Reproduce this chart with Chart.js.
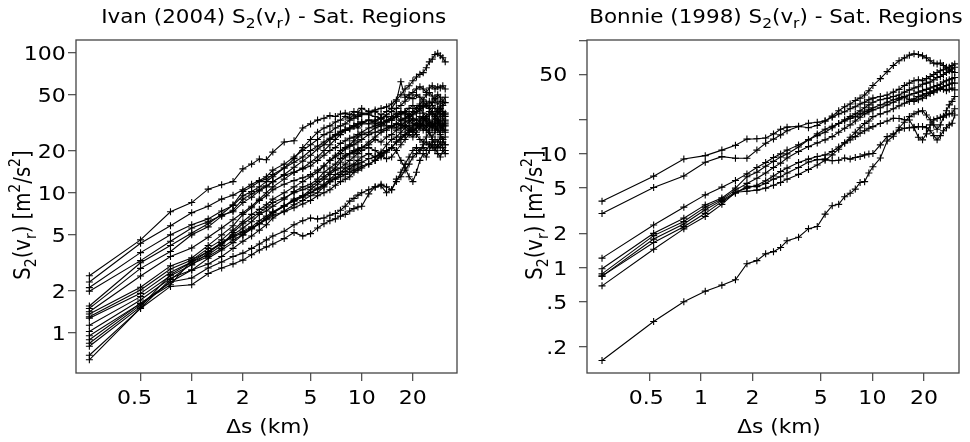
<!DOCTYPE html>
<html>
<head>
<meta charset="utf-8">
<script src="https://cdn.jsdelivr.net/npm/chart.js@4.4.0/dist/chart.umd.min.js"></script>
<style>
  html, body { margin: 0; padding: 0; background: #fff; }
  #wrap { position: relative; width: 970px; height: 442px; }
  .panel { position: absolute; top: 0; }
  #ivan-panel { left: 0; }
  #bonnie-panel { left: 480px; }
</style>
</head>
<body>
<div id="wrap">
  <div class="panel" id="ivan-panel"><canvas id="ivanChart" width="480" height="442"></canvas></div>
  <div class="panel" id="bonnie-panel"><canvas id="bonnieChart" width="490" height="442"></canvas></div>
</div>
<script>
// separation distances (km) where S2 was sampled
const ivanDist = [0.25,0.5,0.75,1,1.25,1.5,1.75,2,2.25,2.5,2.75,3,
  3.5,4,4.5,5,5.5,6,6.5,7,7.5,8,8.5,9,9.5,10,
  11,12,13,14,15,16,17,18,19,20,21,22,23,24,25,26,27,28,29,30,31]
const bonnieDist = [0.265,0.53,0.795,1.06,1.325,1.59,1.855,2.12,2.385,2.65,2.915,3.18,
  3.71,4.24,4.77,5.3,5.83,6.36,6.89,7.42,7.95,8.48,9.01,9.54,10.07,
  11.13,12.19,13.25,14.31,15.37,16.43,17.49,18.55,19.61,20.67,21.73,22.79,23.85,24.91,25.97,27.03,28.09,29.15,30.21]

// Ivan (2004) - one array per saturated region, m2/s2
const ivan01 = [2.55,4.6,7.3,8.5,10.6,11.4,12,14.8,16,17.4,17.2,19.5,
  23,23.5,29,31,33,34,35.5,35,36.5,37,36,38,37.5,40,
  38,39,40,41,43,46,50,55,58,63,67,70,72,78,86,90,97,99,95,92,86]
const ivan02 = [2.3,4.35,5.8,7.2,8.0,9.0,9.6,10.5,11.5,12.2,13,14.5,
  16,18,20,22,24,26,27,29,30,31,33,34,35,36,
  37,38,36,38,40,45,62,48,50,52,55,57,55,52,56,58,55,57,56,58,55]
const ivan03 = [2.1,3.73,5.0,5.9,6.5,7.4,8.1,9.5,10.2,11,12,13,
  15,17.5,21,24,27,29,30,32,33,35,34,36,35,37,
  36,35,34,36,38,40,42,45,48,47,50,48,46,50,52,49,47,50,48,45,48]
const ivan04 = [1.98,3.27,4.5,5.6,6.2,6.9,7.3,8.5,9.3,10.3,11,12,
  13.5,15.2,16.8,18.5,20.5,22,24,25.5,27,28,28.5,30,31,32,
  31,33,34,32,35,37,36,38,40,42,40,43,45,42,40,44,46,43,45,42,44]
const ivan05 = [1.55,3.16,4.2,5.15,6.0,7.0,8.2,10.2,11,12,12.5,13.5,
  15,16.5,18,20,21.5,23,24.5,26,27.5,28,29,30,29,31,
  33,32,34,35,33,36,38,37,35,36,38,40,37,35,38,36,34,37,40,38,36]
const ivan06 = [1.49,2.88,3.8,5.0,5.7,6.8,7.5,9.0,9.8,10.5,11.2,12,
  13.3,14,14.8,15.5,17,18.5,20,21,22.5,23.5,24.5,25,26,27,
  29,30,31,33,34,35,37,38,36,38,40,42,41,43,45,42,40,38,37,36,35]
const ivan07 = [1.41,2.54,3.5,4.03,4.8,5.6,6.4,7.2,8,9,10,11,
  12.5,14,15,16.5,18,20,22,24,26,28,29,30,31,32,
  33,31,32,30,29,31,33,34,35,33,31,30,32,34,33,30,28,31,33,31,30]
const ivan08 = [1.36,2.11,3.0,3.42,4.2,5.0,5.8,7.0,7.8,8.8,9.5,10.5,
  11.5,12.2,12.8,13.5,14.5,15.5,17,18,19,20.5,21.5,22,23,24,
  26,27,28,29,30,29,31,30,32,34,33,35,34,32,30,29,31,33,30,28,27]
const ivan09 = [1.30,2.02,2.85,3.3,4.0,4.6,5.4,6.2,7.0,7.6,8.2,9,
  10,11,12,13,14,15.5,17,18.5,20,21,22,23.5,25,26,
  27,29,30,32,33,35,33,34,36,38,37,39,41,43,40,38,36,39,41,38,37]
const ivan10 = [1.27,1.91,2.7,3.2,3.6,4.2,5.2,6.0,6.6,7.2,7.8,8.5,
  9.2,10,10.5,11,12,13,14,15,16.5,18,19,20,20.5,21,
  22,24,23,25,26,28,29,30,28,27,29,31,30,28,27,25,27,29,26,24,25]
const ivan11 = [1.13,1.81,2.55,3.05,3.7,4.4,5.0,5.6,6.2,7.0,7.4,8.0,
  9.0,10.2,11,11.5,12.5,14,15,16,17.5,18.5,19,19.5,20,21,
  23,25,27,28,30,31,30,32,33,31,30,32,34,33,31,30,32,31,29,30,31]
const ivan12 = [1.02,1.71,2.45,2.8,3.4,3.9,4.4,5.0,5.6,6.0,6.5,7.2,
  8,9,9.5,10,10.8,11.5,12.5,13.5,14,15,15.5,16,17,18,
  19,18,19.5,22,24,25,27,29,30,28,26,24,23,25,27,24,22,21,23,21,20]
const ivan13 = [0.95,1.62,2.3,2.8,3.1,3.5,4.0,4.5,4.9,5.4,5.9,6.6,
  7.4,8.2,8.8,9.5,10,11,12,12.8,13.5,14.2,14.8,15.5,16,16.5,
  17.5,18,19,20,21,20,17,15,13,12,14,17,19,18,20,22,21,19,18,20,19]
const ivan14 = [0.89,1.62,2.2,3.3,3.8,4.3,4.9,5.3,5.7,6.3,6.8,7.3,
  8.1,8.7,9.3,10,10.6,11.2,12,12.5,13,13.5,14,14.5,15,15.5,
  16,17,18,19.5,21,23,25,26,27,28,29,30,28,30,32,31,30,28,27,29,28]
const ivan15 = [0.84,1.58,2.3,2.46,2.9,3.2,3.5,3.7,4.0,4.3,4.6,4.9,
  5.3,5.9,6.3,6.6,6.5,6.6,6.9,7.1,7.5,8.0,8.7,9.1,9.6,10,
  10.5,11,11.5,11,10.5,12,14,16,18,20,21,20,22,23,22,21,20,22,21,23,22]
const ivan16 = [0.80,1.53,2.6,3.2,3.8,4.4,4.8,5.2,5.6,6.0,6.4,6.9,
  7.3,7.8,8.3,8.8,9.5,10,10.5,11.3,12,12.5,13,14,14.5,15,
  16,17,18.5,20,21,23,24,26,28,30,31,33,35,34,36,38,35,33,36,34,32]
const ivan17 = [0.69,1.49,2.14,2.2,2.65,2.9,3.1,3.3,3.6,3.9,4.1,4.3,
  4.7,5.2,4.9,5.1,5.6,6.0,6.3,6.5,6.8,7.0,7.4,7.7,7.9,8.0,
  9.8,11,11.2,10,10.5,12.5,13,14.5,16,18,19,20,21,20,22,23,24,23,25,24,22]
const ivan18 = [0.64,1.5,2.4,3.1,3.5,4.0,4.6,5.0,5.5,6.0,6.6,7.2,
  8.0,8.8,9.5,10.5,11.5,12.5,13.5,14.5,15,16,17,18,19,20,
  21,20,18.5,17.5,18,20,22,24,26,25,27,29,31,30,28,32,35,33,31,30,33]

// Bonnie (1998)
const bonnie1 = [3.84,6.37,9.03,9.66,10.8,11.9,13.5,13.6,13.8,15.0,16.5,17.2,
  17.5,17.0,17.8,19.5,21.5,24,26,27.5,29.5,31,33,36,40,
  46,53,60,66,70,74,76,75,73,70,66,63,62,63,60,58,55,53,52]
const bonnie2 = [2.99,5.06,6.4,8.45,9.47,9.16,9.16,10.8,12.4,13.5,14.7,16.0,
  17.4,18.6,19.0,19.5,21,22.5,23.5,25,26,27.5,28.5,30,31,
  32,33,35,37,40,42,44,45,44,46,48,50,52,54,55,57,58,60,62]
const bonnie3 = [1.21,2.37,3.4,4.36,5.1,5.83,6.67,7.6,8.4,9.3,10.0,10.8,
  12,13.3,14.5,15.5,17,18.5,20,21.3,22.5,24,25.5,27,28.5,
  30,30.8,32,33,35,36.6,38,39,41,42,43,45,47,48,50,52,54,56,58]
const bonnie4 = [0.975,2.0,2.72,3.56,4.1,5.0,6.3,6.9,7.8,8.6,9.4,10.0,
  11.5,13.3,15,16.5,17.5,18.5,19.5,20.5,21.3,22.5,23.5,24.5,25.5,
  27,28.5,30,31,32,33,34,35,36,37,38,39,40,41,43,44,45,46,47]
const bonnie5 = [0.88,1.91,2.54,3.4,4.0,4.8,5.5,6.1,6.8,7.6,8.3,9.2,
  10.5,11.6,12.5,13.3,14.2,15.5,16.8,18,19.5,21,22.5,23.5,24.4,
  25.5,27,28.5,30,31.5,30,29,30,31,32.5,34,35,36.6,38,37,36,37,38,36.6]
const bonnie6 = [0.84,1.78,2.42,3.22,3.9,4.6,5.0,5.3,5.8,6.4,7.0,7.5,
  8.4,9.0,9.5,9.8,10.5,11.5,12.5,13.3,14.2,15.2,16,16.8,17.4,
  18.5,19.5,20.6,20.5,20,19.9,17,14,13.3,15,18,19.9,20.5,21,21.5,22,22.5,22.8,25]
const bonnie7 = [0.84,1.66,2.29,3.0,3.8,4.5,5.2,5.15,5.5,6.0,6.3,6.8,
  7.6,8.5,8.9,9.0,8.7,8.8,9.2,9.0,9.3,9.5,9.8,10.0,10.1,
  12,14.2,15,16.2,16.8,17,17.2,17.4,17.4,17,16,14.5,13.3,14.5,16,17,18,18.6,22]
const bonnie8 = [0.69,1.45,2.19,2.81,3.6,4.6,4.7,4.8,5.0,5.3,5.6,6.0,
  6.6,7.3,8.0,8.8,9.8,11,12.5,14,15.5,17,18.5,19.5,21.3,
  22.5,23.5,25,26.5,27.9,29,30.5,32,33,34,35,36,37,38,39,40,41,42,42]
const bonnie9 = [0.152,0.335,0.5,0.62,0.7,0.78,1.08,1.15,1.32,1.38,1.5,1.72,
  1.85,2.2,2.3,2.95,3.5,3.6,4.2,4.5,4.9,5.6,5.7,6.8,7.7,
  9.2,13,14.3,17,19,21.3,22.5,23.5,24,22,20,18,16.5,18,21,24,27,29,32]

// axis ticks and labels
const xTicks = [0.5, 1, 2, 5, 10, 20]
const xLabels = ['0.5', '1', '2', '5', '10', '20']
const ivanYTicks = [1, 2, 5, 10, 20, 50, 100]
const ivanYLabels = ['1', '2', '5', '10', '20', '50', '100']
const bonnieYTicks = [0.2, 0.5, 1, 2, 5, 10, 20, 50, 100]
const bonnieYLabels = ['.2', '.5', '1', '2', '5', '10', '', '50', '']

// titles, split in parts so subscripts / superscripts can be drawn
const ivanTitle = [['Ivan (2004) S'], ['2', 'sub'], ['(v'], ['r', 'sub'], [') - Sat. Regions']]
const bonnieTitle = [['Bonnie (1998) S'], ['2', 'sub'], ['(v'], ['r', 'sub'], [') - Sat. Regions']]
const yTitle = [['S'], ['2', 'sub'], ['(v'], ['r', 'sub'], [') [m'], ['2', 'sup'], ['/s'], ['2', 'sup'], [']']]
const xTitle = [['\u0394s (km)']]

const FAMILY = "'DejaVu Sans', sans-serif"
// the lettering in the original is a bit wider than it is tall
const SX = 1.13

//draws a line of text with sub/superscripts centred on cx
function drawRich(ctx, parts, cx, baseY, size, sx) {
    const fontOf = (p) => `${p[1] ? size * 0.72 : size}px ${FAMILY}`
    let width = 0
    parts.forEach(p => { ctx.font = fontOf(p); width += ctx.measureText(p[0]).width })
    ctx.save()
    ctx.translate(cx, baseY)
    ctx.scale(sx, 1)
    let x = -width / 2
    ctx.fillStyle = '#000'
    ctx.textAlign = 'left'
    ctx.textBaseline = 'alphabetic'
    parts.forEach(p => {
        ctx.font = fontOf(p)
        let dy = p[1] == 'sub' ? size * 0.28 : (p[1] == 'sup' ? -size * 0.42 : 0)
        ctx.fillText(p[0], x, dy)
        x += ctx.measureText(p[0]).width
    })
    ctx.restore()
}

//single stretched tick label
function drawLabel(ctx, text, x, y, align) {
    ctx.save()
    ctx.translate(x, y)
    ctx.scale(SX, 1)
    ctx.font = `19.5px ${FAMILY}`
    ctx.fillStyle = '#000'
    ctx.textAlign = align
    ctx.textBaseline = 'alphabetic'
    ctx.fillText(text, 0, 0)
    ctx.restore()
}

//box round the plot, tick labels and all the titles
const panelText = {
    id: 'panelText',
    afterDraw(chart, args, opts) {
        const ctx = chart.ctx, a = chart.chartArea
        const xs = chart.scales.x, ys = chart.scales.y
        ctx.save()
        ctx.strokeStyle = '#444'
        ctx.lineWidth = 1.3
        ctx.strokeRect(a.left, a.top, a.right - a.left, a.bottom - a.top)

        xTicks.forEach((v, i) => {
            let shift = (xLabels[i] == '0.5') ? opts.halfShift : 0
            drawLabel(ctx, xLabels[i], xs.getPixelForValue(v) + shift, 403.5, 'center')
        })
        opts.yTicks.forEach((v, i) => {
            drawLabel(ctx, opts.yLabels[i], opts.yLabelRight, ys.getPixelForValue(v) + 7, 'right')
        })

        drawRich(ctx, opts.title, opts.titleX, 22.8, 19, SX)
        drawRich(ctx, xTitle, opts.xTitleX, 432.8, 19.2, SX)

        // y title: stretched across, not along, the text
        ctx.translate(opts.yTitleX, 215)
        ctx.scale(SX, 1)
        ctx.rotate(-Math.PI / 2)
        drawRich(ctx, yTitle, 0, 0, 19.6, 1)
        ctx.restore()
    }
}

function makeDatasets(dist, seriesList) {
    return seriesList.map(vals => ({
        data: vals.map((v, i) => ({ x: dist[i], y: v })),
        borderColor: '#000',
        borderWidth: 1.1,
        pointStyle: 'cross',
        pointRadius: 3.5,
        pointBorderWidth: 1.1,
        pointBorderColor: '#000',
        fill: false,
        tension: 0
    }))
}

function makeChart(canvasId, datasets, cfg) {
    const gridOpts = { drawOnChartArea: false, drawTicks: true, tickLength: 8, color: '#555', lineWidth: 1.3 }
    return new Chart(document.getElementById(canvasId), {
        type: 'line',
        data: { datasets: datasets },
        options: {
            responsive: false,
            animation: false,
            events: [],
            layout: { padding: { left: 0, right: cfg.rightPad, top: 40, bottom: 0 } },
            plugins: {
                legend: { display: false },
                tooltip: { enabled: false },
                panelText: cfg.text
            },
            scales: {
                x: {
                    type: 'logarithmic', min: cfg.xMin, max: cfg.xMax,
                    afterBuildTicks: (s) => { s.ticks = xTicks.map(v => ({ value: v })) },
                    afterFit: (s) => { s.height = 69 },
                    grid: gridOpts,
                    border: { display: false },
                    ticks: { display: false, autoSkip: false }
                },
                y: {
                    type: 'logarithmic', min: cfg.yMin, max: cfg.yMax,
                    afterBuildTicks: (s) => { s.ticks = cfg.text.yTicks.map(v => ({ value: v })) },
                    afterFit: (s) => { s.width = cfg.yWidth },
                    grid: gridOpts,
                    border: { display: false },
                    ticks: { display: false, autoSkip: false }
                }
            }
        },
        plugins: [panelText]
    })
}

makeChart('ivanChart',
    makeDatasets(ivanDist, [ivan01, ivan02, ivan03, ivan04, ivan05, ivan06, ivan07, ivan08, ivan09,
        ivan10, ivan11, ivan12, ivan13, ivan14, ivan15, ivan16, ivan17, ivan18]),
    {
        xMin: 0.2086, xMax: 36.36, yMin: 0.5153, yMax: 123.2, yWidth: 76, rightPad: 23,
        text: {
            title: ivanTitle, titleX: 273.7, xTitleX: 268, yTitleX: 29.5,
            yTicks: ivanYTicks, yLabels: ivanYLabels, yLabelRight: 65.7, halfShift: -6
        }
    })

makeChart('bonnieChart',
    makeDatasets(bonnieDist, [bonnie1, bonnie2, bonnie3, bonnie4, bonnie5, bonnie6, bonnie7, bonnie8, bonnie9]),
    {
        xMin: 0.2166, xMax: 32.0, yMin: 0.118, yMax: 100.6, yWidth: 107, rightPad: 11,
        text: {
            title: bonnieTitle, titleX: 296, xTitleX: 299, yTitleX: 61.5,
            yTicks: bonnieYTicks, yLabels: bonnieYLabels, yLabelRight: 87.3, halfShift: -3
        }
    })
</script>
</body>
</html>
